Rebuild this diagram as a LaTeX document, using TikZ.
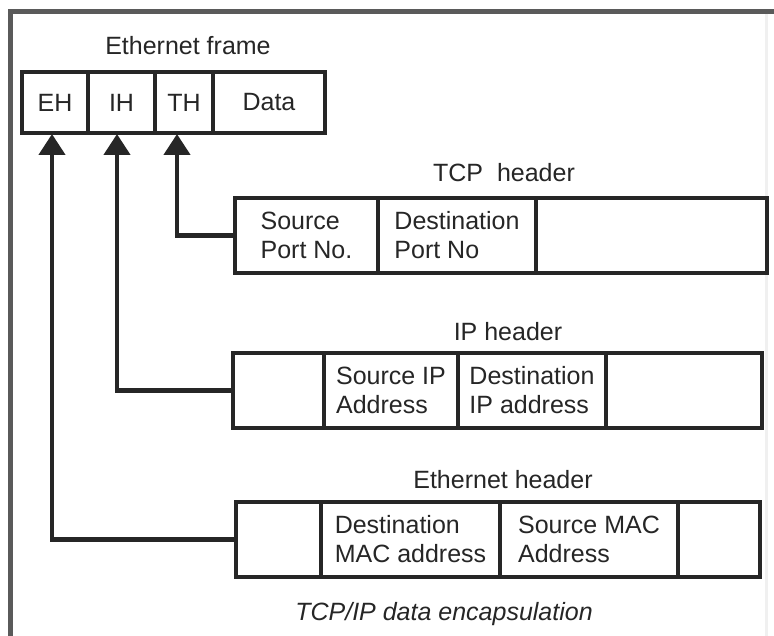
\documentclass[tikz,border=0pt]{standalone}
\usepackage{fontspec}
\setmainfont{Liberation Sans}
\usetikzlibrary{arrows.meta}
\definecolor{ink}{HTML}{262626}
\definecolor{framegray}{HTML}{5A5A5A}
\begin{document}
\begin{tikzpicture}[x=1pt,y=-1pt,
  cell/.style={draw=ink, line width=4pt, rectangle, anchor=north west,
    inner sep=0pt, outer sep=0pt, align=left, text=ink,
    font=\fontsize{25}{29}\selectfont},
  title/.style={text=ink, inner sep=0pt, font=\fontsize{25}{29}\selectfont},
  conn/.style={draw=ink, line width=4.5pt, shorten >=1pt,
    -{Triangle[width=26pt,length=21pt]}}]
\fill[white] (0,0) rectangle (774,636);
\useasboundingbox (0,0) rectangle (774,636);
% outer frame
\draw[framegray, line width=5pt] (774,12) -- (10,12) -- (10,636);
\draw[gray!12, line width=3pt] (766,14) -- (766,636);
% Ethernet frame
\node[title] (eftitle) at (188,46) {Ethernet frame};
\node[cell, minimum width=66, minimum height=61] (eh) at (22,72) {EH};
\node[cell, minimum width=67, minimum height=61] (ih) at (88,72) {IH};
\node[cell, minimum width=58, minimum height=61] (th) at (155,72) {TH};
\node[cell, minimum width=112, minimum height=61] (data) at (213,72) {Data};
% TCP header
\node[title] (tcptitle) at (504,173) {TCP\ \ header};
\node[cell, minimum width=143, minimum height=75] (tcp1) at (235,198) {Source\\Port No.};
\node[cell, minimum width=158, minimum height=75] (tcp2) at (378,198) {Destination\\Port No};
\node[cell, minimum width=231, minimum height=75] (tcp3) at (536,198) {};
% IP header
\node[title] (iptitle) at (508,332) {IP header};
\node[cell, minimum width=91, minimum height=75] (ip1) at (233,353) {};
\node[cell, minimum width=134, minimum height=75] (ip2) at (324,353) {Source IP\\Address};
\node[cell, minimum width=148, minimum height=75] (ip3) at (458,353) {Destination\\IP address};
\node[cell, minimum width=156, minimum height=75] (ip4) at (606,353) {};
% Ethernet header
\node[title] (ethtitle) at (503,480) {Ethernet header};
\node[cell, minimum width=85, minimum height=75] (eth1) at (236,502) {};
\node[cell, minimum width=179, minimum height=75] (eth2) at (321,502) {Destination\\MAC address};
\node[cell, minimum width=178, minimum height=75] (eth3) at (500,502) {Source MAC\\Address};
\node[cell, minimum width=82, minimum height=75] (eth4) at (678,502) {};
% caption
\node[title, font=\fontsize{25}{29}\selectfont\itshape] (caption) at (444,614) {TCP/IP data encapsulation};
% connectors
\draw[conn] (tcp1.west) -| ([xshift=-7pt]th.south);
\draw[conn] (ip1.west) -| ([xshift=-4.5pt]ih.south);
\draw[conn] (eth1.west) -| ([xshift=-3pt]eh.south);
\end{tikzpicture}
\end{document}
